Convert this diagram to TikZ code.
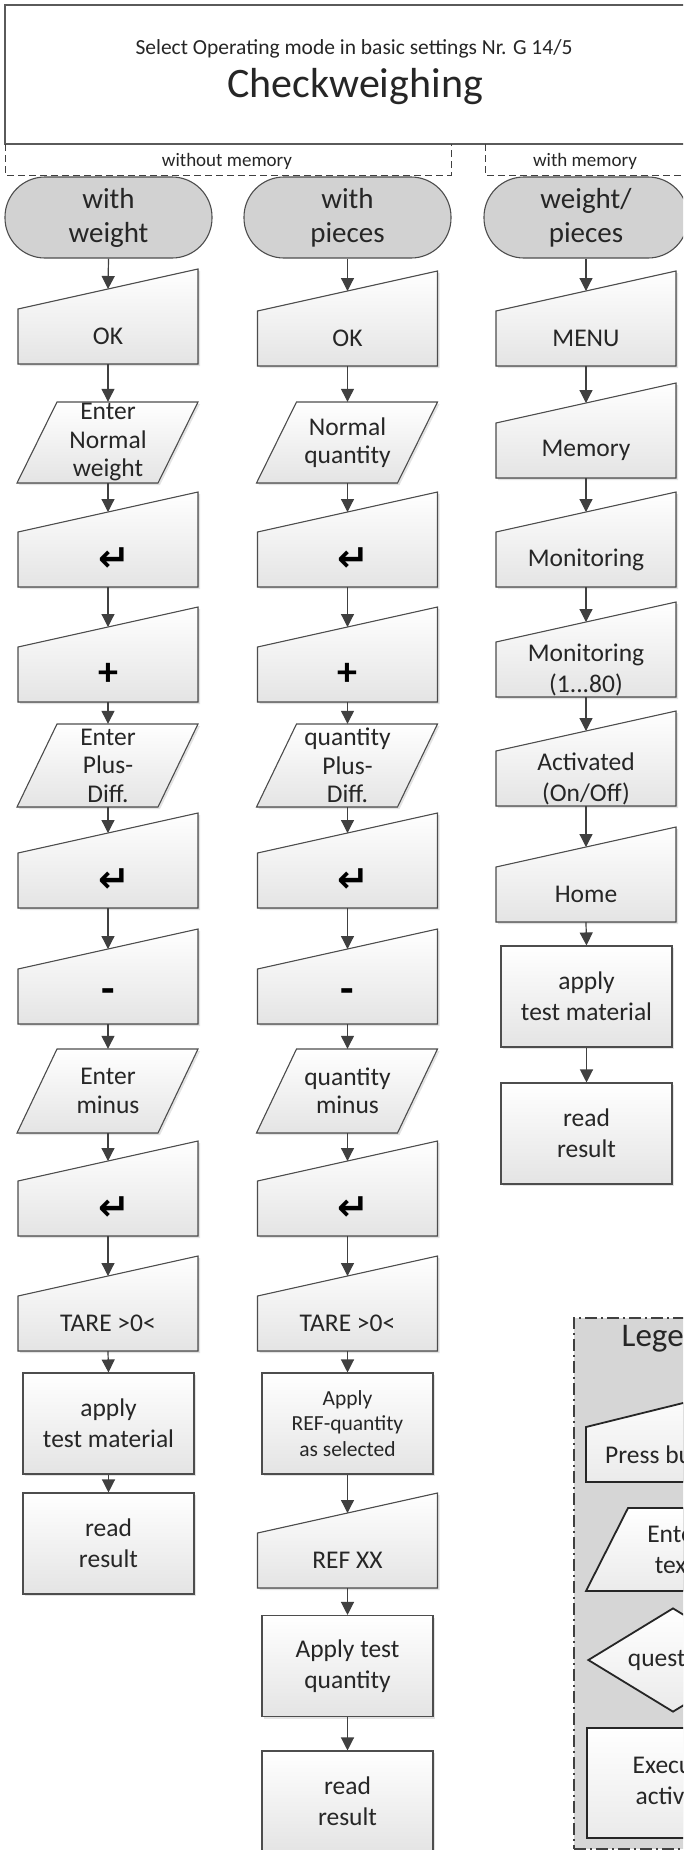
\documentclass[tikz,border=0pt]{standalone}
\usepackage{fontspec}
\setmainfont{Carlito}
\newfontfamily\symfont{DejaVu Sans}
\usetikzlibrary{arrows.meta,shapes.geometric,shadows}
\definecolor{bordc}{HTML}{4D4D4D}
\definecolor{txtc}{HTML}{262626}
\definecolor{boxbot}{HTML}{E4E4E4}
\definecolor{termf}{HTML}{D2D2D2}
\definecolor{legf}{HTML}{D6D6D6}
\definecolor{arrc}{HTML}{404040}
\definecolor{hdrc}{HTML}{5A5A5A}
\newcommand\fs[2]{\fontsize{#1pt}{#2pt}\selectfont}
\newcommand\ret{\hspace*{12pt}↵}
\tikzset{
  boxsty/.style={draw=bordc, line width=1.1pt, top color=white, bottom color=boxbot},
  shad/.style={drop shadow={shadow xshift=2pt, shadow yshift=-2pt, opacity=.18, fill=black!60}},
  txt/.style={inner sep=0pt, text=txtc, align=center, font=\fs{25.5}{31}},
  ptxt/.style={font=\fs{25.5}{28.5}},
  proc/.style={boxsty, shad, txt, minimum width=171pt, minimum height=101pt},
  term/.style={draw=bordc, line width=1.1pt, fill=termf, rounded corners=40pt, minimum height=81pt, inner sep=0pt, text=txtc, align=center, font=\fs{29}{34}},
  arr/.style={draw=arrc, line width=1.2pt, -{Triangle[length=13pt,width=13pt]}},
  retsym/.style={font=\symfont\bfseries\fs{38}{38}, text=black},
  plussym/.style={font=\bfseries\fs{40}{40}, text=black},
  minussym/.style={font=\bfseries\fs{44}{44}, text=black},
  dsty/.style={draw=arrc, line width=1pt, dash pattern=on 7pt off 4pt},
  lbox/.style={draw=black!85, line width=1.8pt, top color=white, bottom color=black!8},
}
\newcommand\man[5]{%
  \filldraw[boxsty,shad] ({#2-90},{#3+40}) -- ({#2+90},{#3}) -- ({#2+90},{#3+95}) -- ({#2-90},{#3+95}) -- cycle;
  \node[txt,minimum width=180pt,minimum height=55pt,#5] (#1) at ({#2},{#3+67.5}) {#4};
  \coordinate (#1-in) at ({#2},{#3+20});
}
\newcommand\para[5]{%
  \filldraw[boxsty,shad] ({#2-51},{#3}) -- ({#2+90},{#3}) -- ({#2+50},{#4}) -- ({#2-91},{#4}) -- cycle;
  \node[txt,ptxt,minimum width=140pt,minimum height={#4-#3}] (#1) at ({#2},{(#3+#4)/2}) {#5};
}
\begin{document}
\begin{tikzpicture}[x=1pt,y=-1pt]
\useasboundingbox (0,0) rectangle (683,1850);
\clip (0,0) rectangle (683,1850);
\fill[white] (0,0) rectangle (683,1850);
% header
\node[draw=hdrc, line width=2.5pt, inner sep=0pt, minimum width=715pt, minimum height=139pt] (hdr) at (362.5,74.5) {};
\node[txt, font=\fs{21.5}{22}] (hsub) at (354,49) {Select Operating mode in basic settings Nr. G 14/5};
\node[txt, font=\fs{42}{42}] (htitle) at (355,87) {Checkweighing};
% groups
\draw[dsty] (5,144) -- (5,175) -- (451,175) -- (451,144);
\draw[dsty] (485,144) -- (485,175) -- (700,175);
\node[txt, font=\fs{19}{19}] (wom) at (227,161) {without memory};
\node[txt, font=\fs{19}{19}] (wm) at (585,161) {with memory};
% terminals
\node[term, minimum width=207pt] (t1) at (108.5,217.5) {with\\weight};
\node[term, minimum width=207pt] (t2) at (347.5,217.5) {with\\pieces};
\node[term, minimum width=204pt] (t3) at (586,217.5) {weight/\\pieces};
% column 1
\man{a1}{108}{269}{OK}{}
\para{a2}{108}{402}{483}{Enter\\Normal\\weight}
\man{a3}{108}{492}{\ret}{retsym}
\man{a4}{108}{607}{+}{plussym}
\para{a5}{108}{724}{807}{Enter\\Plus-\\Diff.}
\man{a6}{108}{813}{\ret}{retsym}
\man{a7}{108}{929}{-}{minussym}
\para{a8}{108}{1049}{1133}{Enter\\minus}
\man{a9}{108}{1141}{\ret}{retsym}
\man{a10}{108}{1256}{TARE >0<}{}
\node[proc] (a11) at (108.5,1423.5) {apply\\test material};
\node[proc] (a12) at (108.5,1543.5) {read\\result};
% column 2
\man{b1}{347.5}{271}{OK}{}
\para{b2}{347.5}{402}{483}{Normal\\quantity}
\man{b3}{347.5}{492}{\ret}{retsym}
\man{b4}{347.5}{607}{+}{plussym}
\para{b5}{347.5}{724}{807}{quantity\\Plus-\\Diff.}
\man{b6}{347.5}{813}{\ret}{retsym}
\man{b7}{347.5}{929}{-}{minussym}
\para{b8}{347.5}{1049}{1133}{quantity\\minus}
\man{b9}{347.5}{1141}{\ret}{retsym}
\man{b10}{347.5}{1256}{TARE >0<}{}
\node[proc, font=\fs{21.5}{25.5}] (b11) at (347.5,1423.5) {Apply\\REF-quantity\\as selected};
\man{b12}{347.5}{1493}{REF XX}{}
\node[proc] (b13) at (347.5,1666) {Apply test\\quantity};
\node[proc] (b14) at (347.5,1801.5) {read\\result};
% column 3
\man{c1}{586}{271}{MENU}{}
\man{c2}{586}{383}{Memory}{}
\man{c3}{586}{492}{Monitoring}{}
\man{c4}{586}{602}{Monitoring\\(1...80)}{}
\man{c5}{586}{711}{Activated\\(On/Off)}{}
\man{c6}{586}{827}{Home}{}
\node[proc] (c7) at (586.5,996.5) {apply\\test material};
\node[proc] (c8) at (586.5,1133.5) {read\\result};
% arrows column 1
\draw[arr] (t1.south) -- (a1-in);
\draw[arr] (a1.south) -- (a2.north);
\draw[arr] (a2.south) -- (a3-in);
\draw[arr] (a3.south) -- (a4-in);
\draw[arr] (a4.south) -- (a5.north);
\draw[arr] (a5.south) -- (a6-in);
\draw[arr] (a6.south) -- (a7-in);
\draw[arr] (a7.south) -- (a8.north);
\draw[arr] (a8.south) -- (a9-in);
\draw[arr] (a9.south) -- (a10-in);
\draw[arr] (a10.south) -- (a11.north);
\draw[arr] (a11.south) -- (a12.north);
% arrows column 2
\draw[arr] (t2.south) -- (b1-in);
\draw[arr] (b1.south) -- (b2.north);
\draw[arr] (b2.south) -- (b3-in);
\draw[arr] (b3.south) -- (b4-in);
\draw[arr] (b4.south) -- (b5.north);
\draw[arr] (b5.south) -- (b6-in);
\draw[arr] (b6.south) -- (b7-in);
\draw[arr] (b7.south) -- (b8.north);
\draw[arr] (b8.south) -- (b9-in);
\draw[arr] (b9.south) -- (b10-in);
\draw[arr] (b10.south) -- (b11.north);
\draw[arr] (b11.south) -- (b12-in);
\draw[arr] (b12.south) -- (b13.north);
\draw[arr] (b13.south) -- (b14.north);
% arrows column 3
\draw[arr] (t3.south) -- (c1-in);
\draw[arr] (c1.south) -- (c2-in);
\draw[arr] (c2.south) -- (c3-in);
\draw[arr] (c3.south) -- (c4-in);
\draw[arr] (c4.south) -- (c5-in);
\draw[arr] (c5.south) -- (c6-in);
\draw[arr] (c6.south) -- (c7.north);
\draw[arr] (c7.south) -- (c8.north);
% legend
\node[draw=arrc, line width=1.6pt, dash pattern=on 12pt off 4pt on 2pt off 4pt, fill=legf, inner sep=0pt, minimum width=230pt, minimum height=531pt, anchor=north west] (leg) at (573,1317) {};
\node[txt, font=\fs{33}{33}] (legt) at (670,1338) {Legend};
\filldraw[lbox] (586,1427) -- (760,1384) -- (760,1482) -- (586,1482) -- cycle;
\node[txt] (lpress) at (670,1454.5) {Press button};
\filldraw[lbox] (628,1508) -- (760,1508) -- (718,1591) -- (586,1591) -- cycle;
\node[txt] (lenter) at (675,1549.5) {Enter\\text};
\node[diamond, lbox, txt, aspect=1.63, minimum width=170pt, minimum height=104pt] (lq) at (673,1660) {question};
\node[lbox, txt, minimum width=172pt, minimum height=110pt] (lexec) at (673,1783) {Execute\\activity};
\end{tikzpicture}
\end{document}
